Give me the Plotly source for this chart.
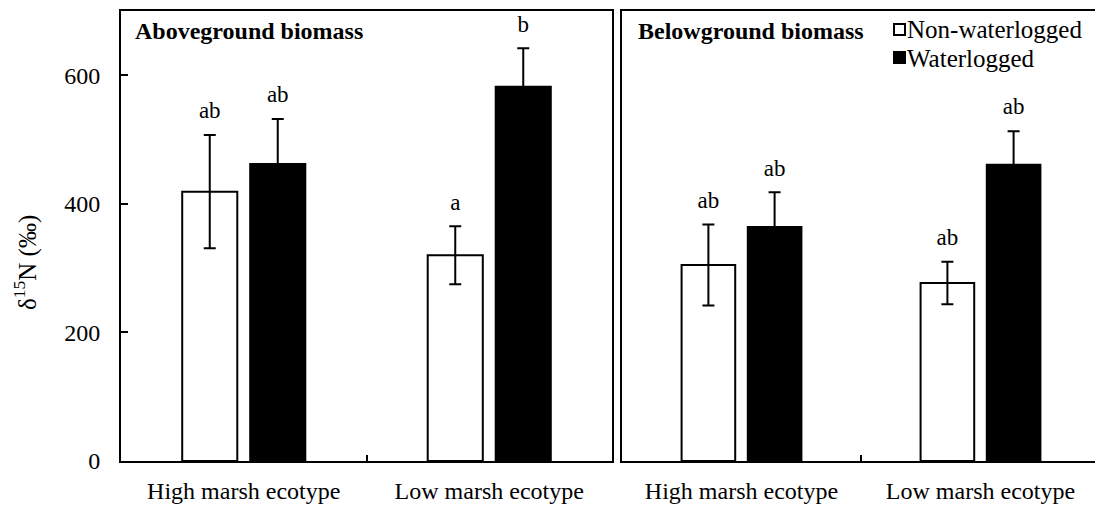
import plotly.graph_objects as go

# Categories and group means (δ15N, ‰) with standard errors
categories = ["High marsh ecotype", "Low marsh ecotype"]

above_nonwl = [419, 320]
above_nonwl_err = [88, 45]
above_wl = [462, 582]
above_wl_err = [70, 60]

below_nonwl = [305, 277]
below_nonwl_err = [63, 33]
below_wl = [364, 461]
below_wl_err = [54, 52]

# Significance letters
above_nonwl_sig = ["ab", "a"]
above_wl_sig = ["ab", "b"]
below_nonwl_sig = ["ab", "ab"]
below_wl_sig = ["ab", "ab"]

y_ticks = [0, 200, 400, 600]

FONT = "Liberation Serif, Times New Roman, serif"
W, H = 1095, 506

fig = go.Figure()

panels = [
    ("x", "y", above_nonwl, above_nonwl_err, above_wl, above_wl_err,
     above_nonwl_sig, above_wl_sig),
    ("x2", "y2", below_nonwl, below_nonwl_err, below_wl, below_wl_err,
     below_nonwl_sig, below_wl_sig),
]

for xa, ya, nw, nw_e, wl, wl_e, nw_s, wl_s in panels:
    fig.add_trace(go.Bar(
        x=categories, y=nw, xaxis=xa, yaxis=ya, offsetgroup="nw",
        marker=dict(color="white", line=dict(color="black", width=2)),
        error_y=dict(type="data", array=nw_e, visible=True,
                     color="black", thickness=2, width=6),
        showlegend=False,
    ))
    fig.add_trace(go.Bar(
        x=categories, y=wl, xaxis=xa, yaxis=ya, offsetgroup="wl",
        marker=dict(color="black", line=dict(color="black", width=2)),
        error_y=dict(type="data", array=wl_e, visible=True,
                     color="black", thickness=2, width=6),
        showlegend=False,
    ))
    # letters sitting above the error whiskers (transparent marker adds the gap)
    for vals, errs, sig, grp in ((nw, nw_e, nw_s, "nw"), (wl, wl_e, wl_s, "wl")):
        fig.add_trace(go.Scatter(
            x=categories, y=[v + e for v, e in zip(vals, errs)],
            xaxis=xa, yaxis=ya, offsetgroup=grp, mode="markers+text",
            marker=dict(size=16, color="rgba(0,0,0,0)"),
            text=sig, textposition="top center",
            textfont=dict(family=FONT, size=23, color="black"),
            showlegend=False, hoverinfo="skip",
        ))

y_dom = [(H - 461) / H, (H - 11) / H]

xaxis_common = dict(
    type="category", showline=True, linecolor="black", linewidth=2,
    ticks="inside", tickson="boundaries", ticklen=6, tickwidth=2,
    tickcolor="black", tickfont=dict(family=FONT, size=24, color="black"),
    showgrid=False, zeroline=False, ticklabelstandoff=7, automargin=False,
)

fig.update_layout(
    width=W, height=H,
    margin=dict(l=0, r=0, t=0, b=0),
    paper_bgcolor="white", plot_bgcolor="white",
    barmode="group", bargap=0.446, bargroupgap=0.19,
    scattermode="group", scattergap=0.446,
    font=dict(family=FONT, color="black"),
    xaxis=dict(domain=[121 / W, 612 / W], anchor="y", mirror=True,
               range=[-0.5, 1.5], **xaxis_common),
    xaxis2=dict(domain=[622 / W, 1.0], anchor="y2", mirror=True,
                range=[-0.5, -0.5 + 2 * (W - 622) / 478], **xaxis_common),
    yaxis=dict(domain=y_dom, range=[0, 700], tickvals=y_ticks,
               showline=True, mirror=True, linecolor="black", linewidth=2,
               ticks="inside", ticklen=7, tickwidth=2, tickcolor="black",
               tickfont=dict(family=FONT, size=24, color="black"),
               ticklabelstandoff=14, showgrid=False, zeroline=False,
               anchor="x", automargin=False),
    yaxis2=dict(domain=y_dom, range=[0, 700], tickvals=y_ticks,
                showticklabels=False, showline=True, mirror=False,
                linecolor="black", linewidth=2, ticks="",
                showgrid=False, zeroline=False, anchor="x2",
                automargin=False),
)

annotations = [
    dict(text="δ<sup>15</sup>N (‰)", x=25 / W, y=(H - 263) / H,
         xref="paper", yref="paper", textangle=-90, showarrow=False,
         font=dict(family=FONT, size=25, color="black"),
         xanchor="center", yanchor="middle"),
    dict(text="<b>Aboveground biomass</b>", x=133 / W, y=(H - 31) / H,
         xref="paper", yref="paper", showarrow=False,
         font=dict(family=FONT, size=24, color="black"),
         xanchor="left", yanchor="middle"),
    dict(text="<b>Belowground biomass</b>", x=636 / W, y=(H - 31) / H,
         xref="paper", yref="paper", showarrow=False,
         font=dict(family=FONT, size=24, color="black"),
         xanchor="left", yanchor="middle"),
    dict(text="Non-waterlogged", x=905 / W, y=(H - 30) / H,
         xref="paper", yref="paper", showarrow=False,
         font=dict(family=FONT, size=25, color="black"),
         xanchor="left", yanchor="middle"),
    dict(text="Waterlogged", x=905 / W, y=(H - 58) / H,
         xref="paper", yref="paper", showarrow=False,
         font=dict(family=FONT, size=25, color="black"),
         xanchor="left", yanchor="middle"),
]
fig.update_layout(annotations=annotations)

# legend swatches
shapes = [
    dict(type="rect", xref="paper", yref="paper",
         x0=894 / W, x1=905 / W, y0=(H - 35) / H, y1=(H - 24) / H,
         fillcolor="white", line=dict(color="black", width=2)),
    dict(type="rect", xref="paper", yref="paper",
         x0=894 / W, x1=905 / W, y0=(H - 63) / H, y1=(H - 52) / H,
         fillcolor="black", line=dict(color="black", width=2)),
]
fig.update_layout(shapes=shapes)

fig.write_html("out.html")
